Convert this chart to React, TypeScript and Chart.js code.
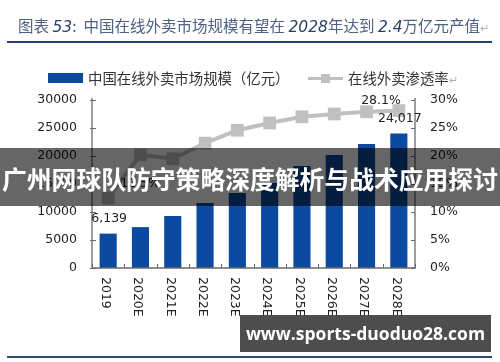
import React, { useEffect, useRef } from 'react';
import { Chart, registerables } from 'chart.js';

Chart.register(...registerables);

const categories = ['2019', '2020E', '2021E', '2022E', '2023E', '2024E', '2025E', '2026E', '2027E', '2028E'];
const marketSize = [6139, 7300, 9300, 11600, 13400, 15200, 18200, 20200, 22150, 24017];
const penetration = [12.5, 20.2, 19.5, 22.3, 24.6, 25.9, 27.0, 27.5, 27.9, 28.1];
const sizeLabels = ['6,139', '', '', '', '', '', '', '', '', '24,017'];
const rateLabels = ['12.5%', '', '', '', '', '', '', '', '', '28.1%'];
const sizeTicks = { min: 0, max: 30000, step: 5000 };
const rateTicks = { min: 0, max: 30, step: 5 };

const BAR_COLOR = '#0b4a9e';
const LINE_COLOR = '#c0c0c0';
const TEXT_COLOR = '#222222';
const NUM_FONT = '12.5px "DejaVu Sans", Verdana, sans-serif';

const decorPlugin = {
  id: 'decor',
  afterDatasetsDraw(chart: any) {
    const { ctx, chartArea } = chart;
    const { left, right, top, bottom } = chartArea;
    const x = chart.scales.x;
    const y = chart.scales.y;
    const y1 = chart.scales.y1;
    ctx.save();
    // axis lines
    ctx.strokeStyle = '#6a6a6a';
    ctx.lineWidth = 1.3;
    ctx.beginPath();
    ctx.moveTo(left, top - 2);
    ctx.lineTo(left, bottom);
    ctx.lineTo(right, bottom);
    ctx.lineTo(right, top - 2);
    ctx.stroke();
    // ticks
    ctx.lineWidth = 1;
    for (let v = sizeTicks.min; v <= sizeTicks.max; v += sizeTicks.step) {
      const py = Math.round(y.getPixelForValue(v)) + 0.5;
      ctx.beginPath();
      ctx.moveTo(left - 2, py);
      ctx.lineTo(left + 4, py);
      ctx.stroke();
    }
    for (let v = rateTicks.min; v <= rateTicks.max; v += rateTicks.step) {
      const py = Math.round(y1.getPixelForValue(v)) + 0.5;
      ctx.beginPath();
      ctx.moveTo(right - 4, py);
      ctx.lineTo(right, py);
      ctx.stroke();
    }
    const n = categories.length;
    for (let i = 0; i <= n; i++) {
      const px = Math.round(left + ((right - left) * i) / n) + 0.5;
      ctx.beginPath();
      ctx.moveTo(px, bottom);
      ctx.lineTo(px, bottom - 4);
      ctx.stroke();
    }
    // rotated category labels (reading top to bottom)
    ctx.fillStyle = TEXT_COLOR;
    ctx.font = NUM_FONT;
    categories.forEach((c, i) => {
      const px = x.getPixelForValue(i);
      ctx.save();
      ctx.translate(px - 3, bottom + 9);
      ctx.rotate(Math.PI / 2);
      ctx.textAlign = 'left';
      ctx.textBaseline = 'middle';
      ctx.fillText(c, 0, 0);
      ctx.restore();
    });
    // data labels
    const barMeta = chart.getDatasetMeta(0);
    sizeLabels.forEach((t, i) => {
      if (!t) return;
      const el = barMeta.data[i];
      ctx.textAlign = 'center';
      ctx.textBaseline = 'middle';
      ctx.fillText(t, el.x + 1, el.y - 15);
    });
    const lineMeta = chart.getDatasetMeta(1);
    rateLabels.forEach((t, i) => {
      if (!t) return;
      const el = lineMeta.data[i];
      ctx.textBaseline = 'middle';
      if (i === 0) {
        ctx.textAlign = 'left';
        ctx.fillText(t, el.x + 12, el.y - 14);
      } else {
        ctx.textAlign = 'right';
        ctx.fillText(t, el.x + 2, el.y - 10);
      }
    });
    ctx.restore();
  },
};

export default function App() {
  const ref = useRef<HTMLCanvasElement | null>(null);

  useEffect(() => {
    if (!ref.current) return;
    const chart = new Chart(ref.current, {
      type: 'bar',
      data: {
        labels: categories,
        datasets: [
          {
            type: 'bar',
            label: '中国在线外卖市场规模（亿元）',
            data: marketSize,
            backgroundColor: BAR_COLOR,
            yAxisID: 'y',
            barPercentage: 0.53,
            categoryPercentage: 1,
            order: 2,
          },
          {
            type: 'line',
            label: '在线外卖渗透率',
            data: penetration,
            yAxisID: 'y1',
            borderColor: LINE_COLOR,
            borderWidth: 4,
            backgroundColor: LINE_COLOR,
            pointStyle: 'rect',
            pointRadius: 9,
            pointBorderWidth: 0,
            pointBackgroundColor: LINE_COLOR,
            tension: 0,
            order: 1,
          } as any,
        ],
      },
      options: {
        responsive: false,
        animation: false,
        devicePixelRatio: 1,
        layout: { padding: { left: 0, right: 0, top: 100, bottom: 94 } },
        plugins: { legend: { display: false }, tooltip: { enabled: false } },
        scales: {
          x: { display: false, offset: true },
          y: {
            position: 'left',
            min: sizeTicks.min,
            max: sizeTicks.max,
            grid: { display: false, drawTicks: false },
            border: { display: false },
            ticks: {
              stepSize: sizeTicks.step,
              padding: 15,
              color: TEXT_COLOR,
              font: { family: '"DejaVu Sans", Verdana, sans-serif', size: 12.5 },
              callback: (v: any) => String(v),
            },
            afterFit: (s: any) => {
              s.width = 92;
            },
          },
          y1: {
            position: 'right',
            min: rateTicks.min,
            max: rateTicks.max,
            grid: { display: false, drawTicks: false },
            border: { display: false },
            ticks: {
              stepSize: rateTicks.step,
              padding: 15,
              color: TEXT_COLOR,
              font: { family: '"DejaVu Sans", Verdana, sans-serif', size: 12.5 },
              callback: (v: any) => v + '%',
            },
            afterFit: (s: any) => {
              s.width = 85;
            },
          },
        },
      },
      plugins: [decorPlugin],
    });
    return () => chart.destroy();
  }, []);

  const cjk = '"Noto Sans CJK SC", "Noto Sans", sans-serif';
  const numItalic: React.CSSProperties = {
    fontFamily: '"DejaVu Sans", Verdana, sans-serif',
    fontStyle: 'italic',
    color: '#2b3f66',
  };

  return (
    <div style={{ position: 'fixed', left: 0, top: 0, width: 500, height: 362, background: '#fff', overflow: 'hidden' }}>
      <canvas ref={ref} width={500} height={362} style={{ position: 'absolute', left: 0, top: 0, width: 500, height: 362 }} />
      {/* title */}
      <div
        style={{
          position: 'absolute',
          left: 18,
          top: 14,
          height: 22,
          lineHeight: '22px',
          fontFamily: cjk,
          fontSize: 15.5,
          color: '#4f6080',
          whiteSpace: 'nowrap',
        }}
      >
        图表 <span style={numItalic}>53</span>:&nbsp; 中国在线外卖市场规模有望在 <span style={numItalic}>2028</span>年达到 <span style={numItalic}>2.4</span>万亿元产值<span style={{ color: '#b0b0b0', fontSize: 11 }}>↵</span>
      </div>
      <div style={{ position: 'absolute', left: 7, top: 41, width: 485, height: 2, background: '#28416c' }} />
      {/* legend */}
      <div style={{ position: 'absolute', left: 48, top: 73, width: 35, height: 10, background: BAR_COLOR }} />
      <div
        style={{
          position: 'absolute',
          left: 88,
          top: 68,
          lineHeight: '20px',
          fontFamily: cjk,
          fontSize: 14.4,
          color: '#333',
          whiteSpace: 'nowrap',
        }}
      >
        中国在线外卖市场规模（亿元）
      </div>
      <div style={{ position: 'absolute', left: 308, top: 76.5, width: 35, height: 3.5, background: LINE_COLOR }} />
      <div style={{ position: 'absolute', left: 321, top: 74, width: 9, height: 9, background: LINE_COLOR }} />
      <div
        style={{
          position: 'absolute',
          left: 348,
          top: 68,
          lineHeight: '20px',
          fontFamily: cjk,
          fontSize: 14.4,
          color: '#333',
          whiteSpace: 'nowrap',
        }}
      >
        在线外卖渗透率<span style={{ color: '#b0b0b0', fontSize: 11 }}>↵</span>
      </div>
      {/* banner overlay */}
      <div
        style={{
          position: 'absolute',
          left: 0,
          top: 148,
          width: 500,
          height: 58,
          background: 'rgba(0,0,0,0.6)',
          color: '#fff',
          fontFamily: cjk,
          fontWeight: 700,
          fontSize: 24.8,
          lineHeight: '60px',
          textAlign: 'center',
          whiteSpace: 'nowrap',
        }}
      >
        广州网球队防守策略深度解析与战术应用探讨
      </div>
      {/* watermark */}
      <div
        style={{
          position: 'absolute',
          left: 240,
          top: 315,
          width: 251,
          height: 37,
          background: 'rgba(58,58,58,0.9)',
          color: '#fff',
          fontFamily: '"Open Sans", "Noto Sans", sans-serif',
          fontWeight: 700,
          fontSize: 17.5,
          lineHeight: '37px',
          textAlign: 'center',
          whiteSpace: 'nowrap',
        }}
      >
        www.sports-duoduo28.com
      </div>
      <div style={{ position: 'absolute', left: 7, top: 356, width: 485, height: 2, background: '#2e4a6b' }} />
    </div>
  );
}
